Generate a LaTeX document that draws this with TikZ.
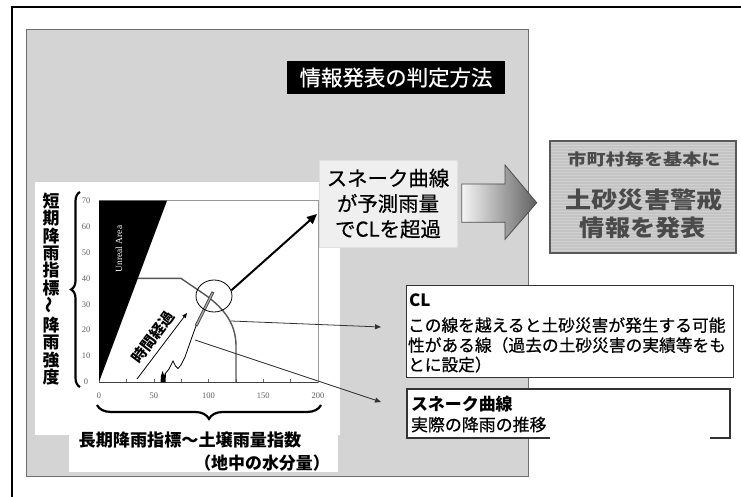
\documentclass[tikz,border=0pt]{standalone}
\usepackage{fontspec}
\usepackage{graphicx}
\setmainfont{Liberation Serif}
\newfontfamily\jp{Noto Sans CJK JP}
\newfontfamily\jpm[FakeBold=0.6]{Noto Sans CJK JP}
\usetikzlibrary{decorations.pathreplacing,arrows.meta,shapes.geometric}
\definecolor{panel}{HTML}{D4D4D4}
\definecolor{panelline}{HTML}{6E6E6E}
\definecolor{callfill}{HTML}{EFEFEF}
\definecolor{rbox}{HTML}{C4C4C4}
\definecolor{stripe}{HTML}{D0D0D0}
\definecolor{rtext}{HTML}{4A4A4A}
\definecolor{cline}{HTML}{555555}
\definecolor{tick}{HTML}{606060}
\begin{document}
\begin{tikzpicture}[x=1bp,y=-1bp,
  txt/.style={inner sep=0pt,outer sep=0pt},
  thinarrow/.style={draw=black!80,line width=0.8pt,-{Triangle[length=6pt,width=5pt]}},
  bigarrow/.style={line width=2pt,-{Triangle[length=10pt,width=9pt]}},
  bracestyle/.style={line width=2.2pt,decorate},
  ticklab/.style={inner sep=0pt,font=\fontsize{8.5}{9}\selectfont,text=tick},
  infobox/.style={draw=black!80,fill=white,line width=0.9pt}]
\useasboundingbox (0,0) rectangle (741,497);
\fill[white] (0,0) rectangle (741,497);
\draw[line width=2pt] (12,497) -- (12,7.5) -- (741,7.5);
% panel
\draw[draw=panelline,fill=panel,line width=0.8pt] (26.5,29.5) rectangle (528,476.5);
\fill[white] (35,182) rectangle (340,435);
\fill[white] (69,425) rectangle (338,472);
% title
\node[fill=black,text=white,inner sep=0pt,minimum width=218bp,minimum height=33bp,
  font=\jpm\fontsize{21.5}{22}\selectfont] (title) at (396,77.5) {情報発表の判定方法};
% callout
\node[fill=callfill,draw=black!12,minimum width=138bp,minimum height=87bp,inner sep=0pt,
  align=center,font=\jpm\fontsize{20.5}{25.5}\selectfont] (callout) at (388,203.5)
  {スネーク曲線\\が予測雨量\\でCLを超過};
% big block arrow
\draw[draw=black!70,left color=black!4,right color=black!62,line width=0.8pt]
  (461.7,184) -- (505,184) -- (505,165) -- (536.7,202.7) -- (505,239.3) -- (505,222.3) -- (461.7,222.3) -- cycle;
% right box
\fill[rbox] (550,141) rectangle (736,253);
\foreach \yy in {142.5,145.5,...,252} \draw[stripe,line width=1pt] (550,\yy) -- (736,\yy);
\draw[black!65,line width=1.2pt] (550,141) rectangle (736,253);
\node[txt,text=rtext,font=\jp\bfseries\fontsize{16}{16}\selectfont,xscale=1.2] (rtop) at (644,159) {市町村毎を基本に};
\node[txt,text=rtext,font=\jp\bfseries\fontsize{23}{23}\selectfont,xscale=1.14] (rmid) at (644,200) {土砂災害警戒};
\node[txt,text=rtext,font=\jp\bfseries\fontsize{23}{23}\selectfont,xscale=1.1] (rbot) at (643,228) {情報を発表};
% CL box
\draw[infobox] (406,285) rectangle (733,377);
\node[txt,anchor=base west,font=\jp\bfseries\fontsize{17}{17}\selectfont] (cltitle) at (409,306) {CL};
\node[txt,anchor=base west,font=\jpm\fontsize{16.8}{17}\selectfont] (cl1) at (408,331.5) {この線を越えると土砂災害が発生する可能};
\node[txt,anchor=base west,font=\jpm\fontsize{16.8}{17}\selectfont] (cl2) at (408,351.5) {性がある線（過去の土砂災害の実績等をも};
\node[txt,anchor=base west,font=\jpm\fontsize{16.8}{17}\selectfont] (cl3) at (408,371) {とに設定）};
% snake box
\draw[infobox,line width=1.2pt] (407,389) rectangle (730,438);
\fill[white] (550,431) rectangle (710,440);
\node[txt,anchor=base west,font=\jp\bfseries\fontsize{17}{17}\selectfont] (sntitle) at (411,410.5) {スネーク曲線};
\node[txt,anchor=base west,font=\jpm\fontsize{17}{17}\selectfont] (sn1) at (411,431) {実際の降雨の推移};
% ---- chart ----
\draw[black!40,line width=0.6pt] (99,200.7) rectangle (318,382);
\fill[black] (99,382) -- (99,200.7) -- (167,200.7) -- cycle;
\node[txt,rotate=90,text=white,font=\fontsize{9.5}{10}\selectfont] (unreal) at (119,249) {Unreal Area};
\draw[black!75,line width=1pt] (99,382) -- (318,382);
\foreach \xx in {126.4,153.75,181.1,208.5,235.9,263.25,290.6} \draw[black!60,line width=0.5pt] (\xx,382) -- (\xx,379);
\foreach \v/\yy in {0/382,10/356.1,20/330.2,30/304.3,40/278.4,50/252.5,60/226.6,70/200.7}
  \node[ticklab] (yt\v) at (86,\yy) {\v};
\foreach \v/\xx in {0/99,50/153.75,100/208.5,150/263.25,200/318}
  \node[ticklab] (xt\v) at (\xx,396) {\v};
% CL line
\draw[cline,line width=1.4pt] (138,278.4) -- (181,278.4) -- (201,292)
  .. controls (222,306) and (236,322) .. (236,346) -- (236,382);
% snake
\fill[black] (160.5,382) -- (161,376) -- (162.5,371) -- (164,375) -- (166,373) -- (165.5,382) -- cycle;
\draw[black,line width=0.8pt] (165,374) -- (169,369) -- (173,361) -- (175.5,366) -- (178,368.5) -- (181,365) -- (185,357) -- (192,337) -- (196,326);
\draw[black!70,line width=3pt] (196,326) -- (213,292);
\draw[black!35,line width=1.2pt] (196.5,325) -- (212.5,293);
% circle
\node[draw=black,ellipse,minimum width=36bp,minimum height=32bp,inner sep=0pt,line width=0.8pt] (circ) at (214,296) {};
% time arrow
\coordinate (tstart) at (137,379);
\coordinate (tend) at (187,313);
\draw[black,line width=0.8pt,-{Triangle[length=5pt,width=4pt]}] (tstart) -- (tend);
\node[txt,rotate=53,font=\jp\bfseries\fontsize{15}{15}\selectfont] (time) at (153,337) {時間経過};
% connectors
\coordinate (bigend) at (317,214);
\draw[bigarrow] (circ.18) -- (bigend);
\coordinate (clp) at (231,321);
\coordinate (clend) at (381,327);
\draw[thinarrow] (clp) -- (clend);
\coordinate (snp) at (195,340);
\coordinate (snend) at (381,402);
\draw[thinarrow] (snp) -- (snend);
% braces and axis labels
\draw[bracestyle,decoration={brace,amplitude=9pt}] (80,387) -- (80,192);
\draw[bracestyle,decoration={brace,amplitude=14pt}] (321,405) -- (97,405);
\node[txt,align=center,font=\jp\bfseries\fontsize{17}{17.5}\selectfont] (ylab) at (51,289)
  {短\\期\\降\\雨\\指\\標\\\rotatebox{90}{～}\\降\\雨\\強\\度};
\node[txt,font=\jp\bfseries\fontsize{17.2}{18}\selectfont] (xlab1) at (190,440) {長期降雨指標～土壌雨量指数};
\node[txt,font=\jp\bfseries\fontsize{17}{18}\selectfont] (xlab2) at (262,463) {（地中の水分量）};
\end{tikzpicture}
\end{document}
